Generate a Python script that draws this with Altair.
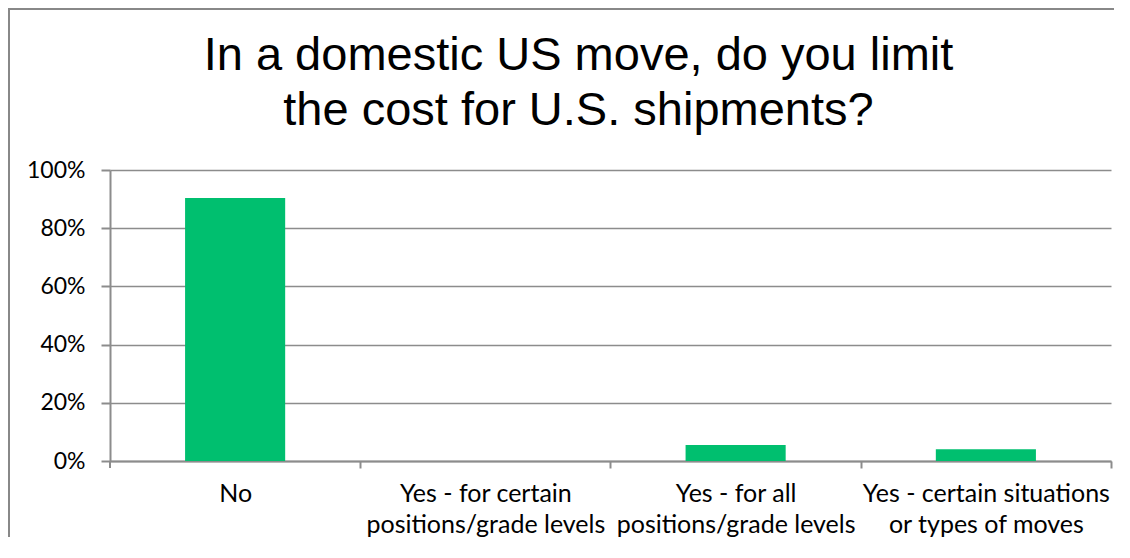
import altair as alt
import pandas as pd

categories = [
    "No",
    "Yes - for certain\npositions/grade levels",
    "Yes - for all\npositions/grade levels",
    "Yes - certain situations\nor types of moves",
]
values = [0.904, 0.0, 0.055, 0.04]
y_ticks = [0, 0.2, 0.4, 0.6, 0.8, 1.0]
title_lines = ["In a domestic US move, do you limit", "the cost for U.S. shipments?"]

df = pd.DataFrame({"cat": categories, "val": values})
frame_df = pd.DataFrame({"k": [1]})

W, H = 1001, 291
GRID = "#8c8c8c"
GREEN = "#00BF6F"
LABEL_FONT = "Lato"

bars = alt.Chart(df).mark_bar(color=GREEN).encode(
    x=alt.X(
        "cat:N",
        sort=categories,
        scale=alt.Scale(paddingInner=0.6, paddingOuter=0.3),
        axis=alt.Axis(
            title=None,
            labelAngle=0,
            labelExpr="split(datum.label, '\\n')",
            labelFont=LABEL_FONT,
            labelFontSize=25,
            labelColor="#000000",
            labelLineHeight=31,
            labelPadding=13,
            labelBaseline="top",
            labelLimit=0,
            tickOffset=125,
            labelOffset=-125,
            tickSize=7,
            tickColor=GRID,
            tickWidth=2,
            domainColor=GRID,
            domainWidth=2,
            grid=False,
        ),
    ),
    y=alt.Y(
        "val:Q",
        scale=alt.Scale(domain=[0, 1]),
        axis=alt.Axis(
            title=None,
            values=y_ticks,
            format=".0%",
            labelFont=LABEL_FONT,
            labelFontSize=23,
            labelColor="#000000",
            labelPadding=16,
            tickSize=9,
            tickColor=GRID,
            tickWidth=2,
            domainColor=GRID,
            domainWidth=2,
            grid=True,
            gridColor=GRID,
            gridWidth=1.5,
        ),
    ),
)

left_tick = alt.Chart(frame_df).mark_rule(color=GRID, strokeWidth=2).encode(
    x=alt.value(0), y=alt.value(H), y2=alt.value(H + 7)
)

frame_top = alt.Chart(frame_df).mark_rule(color="#888888", strokeWidth=2).encode(
    x=alt.value(-101), x2=alt.value(W + 3), y=alt.value(-161)
)
frame_left = alt.Chart(frame_df).mark_rule(color="#888888", strokeWidth=2).encode(
    x=alt.value(-101), y=alt.value(-162), y2=alt.value(H + 80)
)

chart = alt.layer(frame_top, frame_left, bars, left_tick).properties(
    width=W,
    height=H,
    autosize=alt.AutoSizeParams(type="none"),
    padding={"left": 102, "top": 162, "right": 3, "bottom": 76},
    title=alt.Title(
        title_lines,
        font="Liberation Sans",
        fontSize=47,
        fontWeight="normal",
        color="#000000",
        lineHeight=55,
        anchor="middle",
        dx=-32,
        dy=128,
        offset=0,
    ),
).configure_view(stroke=None)

chart.save("out.html", embed_options={"renderer": "svg", "actions": False})
